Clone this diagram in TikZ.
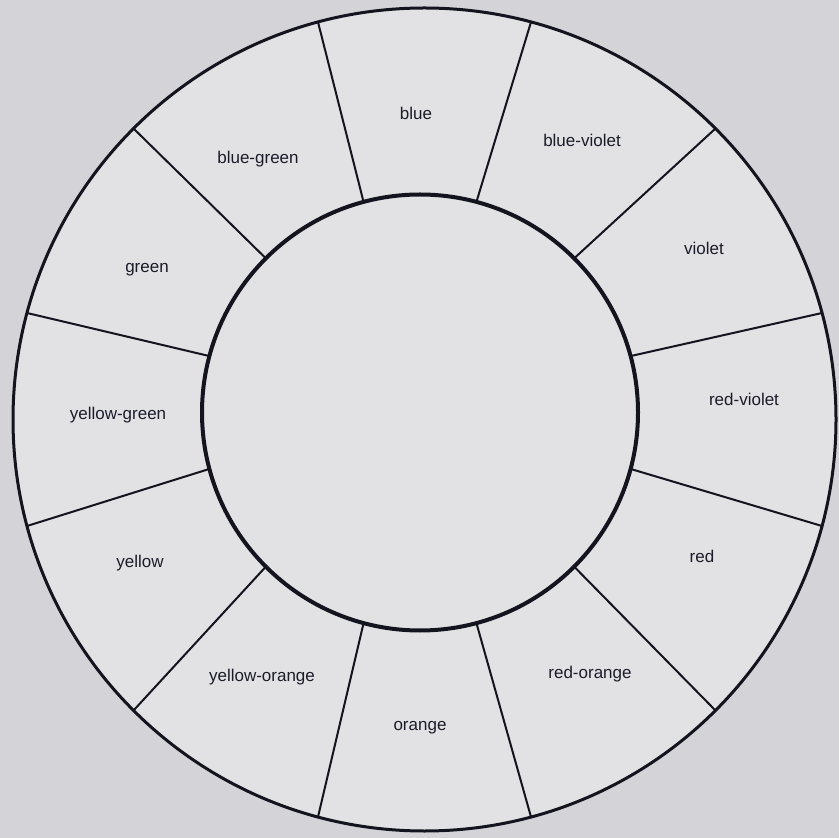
\documentclass[tikz,border=0pt]{standalone}
\usepackage{fontspec}
\setmainfont{Liberation Sans}
\definecolor{bgcol}{RGB}{212,212,216}
\definecolor{discol}{RGB}{226,226,229}
\definecolor{inkcol}{RGB}{20,20,30}
\definecolor{txtcol}{RGB}{28,28,40}
\tikzset{
  rimline/.style={draw=inkcol, line width=1.5pt},
  hubline/.style={draw=inkcol, line width=2pt},
  spoke/.style={draw=inkcol, line width=1pt},
  lbl/.style={text=txtcol, font=\fontsize{8.5}{10}\selectfont, inner sep=0pt}
}
\begin{document}
\begin{tikzpicture}[x=0.5pt,y=-0.5pt]
\fill[bgcol] (0,0) rectangle (839,838);
\useasboundingbox (0,0) rectangle (839,838);
\coordinate (oc) at (424.5,419.5);
\coordinate (ic) at (420,412.5);
\fill[discol] (oc) circle[radius=205.75pt];
\foreach \a in {15,45,...,345}{
  \draw[spoke] ([shift={(-\a:218)}]ic) -- ([shift={(-\a:411.5)}]oc);
}
\draw[rimline] (oc) circle[radius=205.75pt];
\draw[hubline] (ic) circle[radius=109pt];
\node[lbl] (blue) at (416,113) {blue};
\node[lbl] (blueviolet) at (582,140) {blue-violet};
\node[lbl] (violet) at (704,248) {violet};
\node[lbl] (redviolet) at (744,399) {red-violet};
\node[lbl] (red) at (702,556) {red};
\node[lbl] (redorange) at (590,674) {red-orange};
\node[lbl] (orange) at (420,728) {orange};
\node[lbl] (yelloworange) at (262,677) {yellow-orange};
\node[lbl] (yellow) at (140,563) {yellow};
\node[lbl] (yellowgreen) at (118,415) {yellow-green};
\node[lbl] (green) at (147,270) {green};
\node[lbl] (bluegreen) at (258,159) {blue-green};
\end{tikzpicture}
\end{document}
